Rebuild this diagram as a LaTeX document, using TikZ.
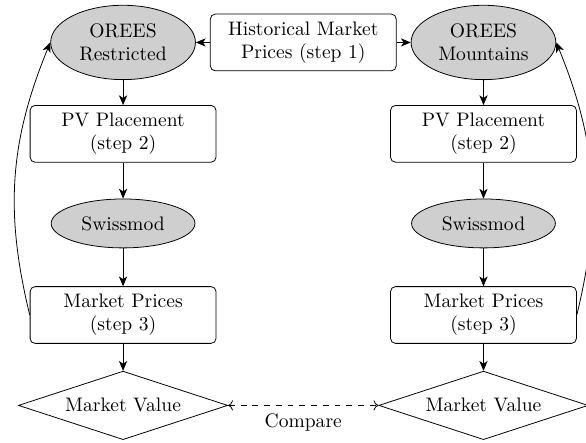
\documentclass[tikz,border=0pt]{standalone}
\usepackage{xcolor}
\usetikzlibrary{arrows.meta, positioning, shapes.geometric}

\begin{document}
\begin{tikzpicture}[
    every node/.style={font=\fontsize{10}{11.7}\selectfont},
    block/.style={rectangle, rounded corners=2.5pt, draw, minimum width=95pt,
                  minimum height=29pt, align=center, inner sep=1pt},
    model/.style={ellipse, draw, fill=gray!38, align=center, inner sep=0pt,
                  minimum width=74pt, minimum height=38pt},
    small/.style={model, minimum width=73.5pt, minimum height=25pt},
    diam/.style={diamond, draw, aspect=3, inner sep=0pt,
                 minimum width=107pt, minimum height=35pt},
    arr/.style={-{Stealth[length=5pt, width=4.2pt, inset=1.4pt]}}
]
\useasboundingbox (-62.9pt,21.7pt) rectangle (236.6pt,-204.7pt);
% left column
\node[model] (oreesL) at (0,0) {OREES\\Restricted};
\node[block, right=7.2pt of oreesL] (hist) {Historical Market\\Prices (step 1)};
\node[model, right=7.2pt of hist] (oreesR) {OREES\\Mountains};
\node[block, below=12.8pt of oreesL] (pvL) {PV Placement\\(step 2)};
\node[small, below=18.4pt of pvL] (swissL) {Swissmod};
\node[block, below=19.4pt of swissL] (mpL) {Market Prices\\(step 3)};
\node[diam, below=13.8pt of mpL] (mvL) {Market Value};
% right column
\node[block, below=12.8pt of oreesR] (pvR) {PV Placement\\(step 2)};
\node[small, below=18.4pt of pvR] (swissR) {Swissmod};
\node[block, below=19.4pt of swissR] (mpR) {Market Prices\\(step 3)};
\node[diam, below=13.8pt of mpR] (mvR) {Market Value};
% connectors
\draw[arr] (hist) -- (oreesL);
\draw[arr] (hist) -- (oreesR);
\draw[arr] (oreesL) -- (pvL);
\draw[arr] (pvL) -- (swissL);
\draw[arr] (swissL) -- (mpL);
\draw[arr] (mpL) -- (mvL);
\draw[arr] (oreesR) -- (pvR);
\draw[arr] (pvR) -- (swissR);
\draw[arr] (swissR) -- (mpR);
\draw[arr] (mpR) -- (mvR);
\draw[arr] (mpL.west) to[bend left=18] (oreesL.west);
\draw[arr] (mpR.east) to[bend right=18] (oreesR.east);
\draw[{To}-{To}, dashed] (mvL.east) -- node[midway, below=0.5pt] (cmp) {Compare} (mvR.west);
\end{tikzpicture}
\end{document}
